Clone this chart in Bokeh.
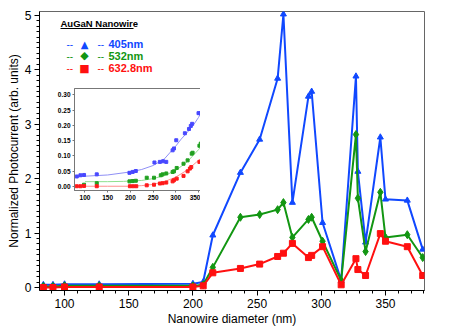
from bokeh.plotting import figure
from bokeh.models import (Label, BoxAnnotation, GridBox, SingleIntervalTicker,
                          FixedTicker, NumeralTickFormatter)
from bokeh.embed import file_html
from bokeh.resources import INLINE

# ---------------- main data ----------------
diameter = [83.5, 91, 100, 127, 200, 208, 215.5, 237, 252, 266, 270.5, 277.5,
            290, 292.5, 301, 315.5, 327, 328.5, 334.5, 346, 350, 367, 379]
pc_405 = [0.05, 0.05, 0.06, 0.06, 0.07, 0.10, 0.96, 2.11, 2.72, 3.84, 5.02, 1.56,
          3.51, 3.60, 1.19, 0.13, 3.88, 2.13, 0.83, 2.76, 1.62, 1.60, 0.70]
pc_532 = [0.02, 0.02, 0.03, 0.03, 0.03, 0.05, 0.37, 1.29, 1.34, 1.43, 1.56, 0.92,
          1.25, 1.29, 0.85, 0.13, 2.81, 1.64, 0.66, 1.75, 0.92, 0.97, 0.55]
pc_633 = [0.00, 0.00, 0.01, 0.01, 0.01, 0.03, 0.27, 0.35, 0.43, 0.57, 0.63, 0.81,
          0.55, 0.59, 0.75, 0.05, 0.53, 0.33, 0.22, 0.99, 0.85, 0.75, 0.22]

series_labels = ["405nm", "532nm", "632.8nm"]
legend_title = "AuGaN Nanowire"
x_label = "Nanowire diameter (nm)"
y_label = "Normalized Photocurrent (arb. units)"

# ---------------- inset data ----------------
in_x_405 = [82, 90, 98, 126, 198, 205, 212, 253, 265, 272, 279, 293, 296, 301,
            320, 329, 333, 336, 350, 354, 369, 379]
in_y_405 = [0.032, 0.036, 0.037, 0.039, 0.044, 0.047, 0.050, 0.078, 0.080, 0.082,
            0.080, 0.118, 0.124, 0.151, 0.174, 0.188, 0.198, 0.205, 0.240, 0.240,
            0.278, 0.294]
in_x_532 = [98, 126, 198, 205, 212, 236, 252, 267, 271, 279, 293, 296, 302, 317,
            326, 335, 337, 352, 355, 368, 379]
in_y_532 = [0.005, 0.010, 0.016, 0.017, 0.018, 0.028, 0.028, 0.036, 0.039, 0.042,
            0.047, 0.049, 0.060, 0.074, 0.085, 0.107, 0.110, 0.133, 0.140, 0.157,
            0.165]
in_x_633 = [82, 90, 98, 126, 199, 206, 213, 236, 252, 265, 271, 279, 293, 296, 302,
            317, 326, 331, 334, 352, 367, 370, 381]
in_y_633 = [0.000, 0.000, 0.001, 0.000, 0.000, 0.000, 0.000, 0.003, 0.005, 0.009,
            0.010, 0.012, 0.016, 0.020, 0.025, 0.034, 0.049, 0.058, 0.063, 0.080,
            0.096, 0.102, 0.134]
# fitted curves
fit_x_405 = [77, 100, 150, 200, 225, 250, 275, 300, 312, 325, 342, 350, 371, 383]
fit_y_405 = [0.031, 0.033, 0.037, 0.047, 0.055, 0.068, 0.090, 0.132, 0.155, 0.176,
             0.208, 0.226, 0.284, 0.318]
fit_x_532 = [100, 150, 185, 225, 250, 275, 300, 325, 350, 365, 383]
fit_y_532 = [0.015, 0.015, 0.016, 0.019, 0.025, 0.035, 0.052, 0.080, 0.120, 0.150,
             0.192]
fit_x_633 = [77, 150, 200, 225, 250, 275, 300, 325, 350, 370, 383]
fit_y_633 = [0.000, 0.000, 0.000, 0.002, 0.006, 0.015, 0.030, 0.053, 0.085, 0.110,
             0.140]
in_x_ticks = [100, 150, 200, 250, 300, 350]
in_y_ticks = [0.0, 0.05, 0.10, 0.15, 0.20, 0.25, 0.30]

BLUE = "#1048ff"
GREEN = "#129612"
RED = "#ff1010"
FONT = "Liberation Sans"

# ---------------- main figure ----------------
p = figure(frame_width=385, frame_height=279, x_range=(80.5, 380.4),
           y_range=(-0.055, 5.07),
           output_backend="svg", toolbar_location=None,
           min_border_left=30, min_border_right=19, min_border_top=2,
           min_border_bottom=37)
p.grid.visible = False
p.outline_line_color = "#666666"
p.background_fill_color = "white"

p.xaxis.ticker = SingleIntervalTicker(interval=50, num_minor_ticks=5)
p.yaxis.ticker = SingleIntervalTicker(interval=1, num_minor_ticks=10)
p.xaxis.axis_label = x_label
p.yaxis.axis_label = y_label
for ax in (p.xaxis, p.yaxis):
    ax.major_label_text_font = FONT
    ax.major_label_text_font_size = "12px"
    ax.major_label_text_color = "black"
    ax.axis_label_text_font = FONT
    ax.axis_label_text_font_size = "12px"
    ax.axis_label_text_font_style = "normal"
    ax.axis_label_text_color = "black"
    ax.axis_label_standoff = 1
    ax.axis_line_color = "black"
    ax.major_tick_line_color = "black"
    ax.minor_tick_line_color = "black"
    ax.major_tick_out = 5
    ax.major_tick_in = 0
    ax.minor_tick_out = 3
    ax.minor_tick_in = 0
    ax.major_label_standoff = 3

p.line(diameter, pc_405, color=BLUE, line_width=2)
p.scatter(diameter, pc_405, marker="triangle", size=6, color=BLUE)
p.line(diameter, pc_532, color=GREEN, line_width=2)
p.scatter(diameter, pc_532, marker="diamond", size=8, color=GREEN)
p.line(diameter, pc_633, color=RED, line_width=2)
p.scatter(diameter, pc_633, marker="square", size=6, color=RED)

# legend block
p.add_layout(Label(x=21, y=267, x_units="screen", y_units="screen",
                   text=legend_title, text_font=FONT, text_font_size="9.5px",
                   text_font_style="bold", text_baseline="middle",
                   text_color="black"))
p.add_layout(BoxAnnotation(left=21, right=94, bottom=261.5, top=262.5,
                           left_units="screen", right_units="screen",
                           bottom_units="screen", top_units="screen",
                           fill_color="black", fill_alpha=1, line_color=None))
rows = [(246.5, BLUE, "\u25B2", 10), (235, GREEN, "\u25C6", 11), (222.5, RED, "\u25A0", 11)]
for (yy, col, sym, fs), lab in zip(rows, series_labels):
    p.add_layout(Label(x=27, y=yy, x_units="screen", y_units="screen", text="--",
                       text_font=FONT, text_font_size="10px", text_color=col,
                       text_baseline="middle"))
    p.add_layout(Label(x=45, y=yy, x_units="screen", y_units="screen", text=sym,
                       text_font="DejaVu Sans", text_font_size=f"{fs}px",
                       text_color=col, text_align="center", text_baseline="middle"))
    p.add_layout(Label(x=58, y=yy, x_units="screen", y_units="screen", text="--",
                       text_font=FONT, text_font_size="10px", text_color=col,
                       text_baseline="middle"))
    p.add_layout(Label(x=69, y=yy, x_units="screen", y_units="screen", text=lab,
                       text_font=FONT, text_font_size="11px", text_font_style="bold",
                       text_color=col, text_baseline="middle"))

# ---------------- inset ----------------
ins = figure(frame_width=139, frame_height=102, x_range=(77, 383),
             y_range=(-0.014, 0.321),
             output_backend="svg", toolbar_location=None,
             min_border_left=20, min_border_right=3, min_border_top=3,
             min_border_bottom=14)
ins.grid.visible = False
ins.outline_line_color = "#777777"
ins.border_fill_color = None
ins.background_fill_color = "white"
ins.xaxis.ticker = FixedTicker(ticks=in_x_ticks)
ins.yaxis.ticker = FixedTicker(ticks=in_y_ticks)
ins.yaxis.formatter = NumeralTickFormatter(format="0.00")
for ax in (ins.xaxis, ins.yaxis):
    ax.major_label_text_font = FONT
    ax.major_label_text_font_size = "6.5px"
    ax.major_label_text_font_style = "bold"
    ax.major_label_text_color = "black"
    ax.axis_line_color = "#777777"
    ax.major_tick_line_color = "#777777"
    ax.minor_tick_line_color = None
    ax.major_tick_out = 2
    ax.major_tick_in = 0
    ax.major_label_standoff = 2

ins.line(fit_x_405, fit_y_405, color="#8f8ff5", line_width=1)
ins.line(fit_x_532, fit_y_532, color="#8fe08f", line_width=1)
ins.line(fit_x_633, fit_y_633, color="#ff8f8f", line_width=1)
ins.scatter(in_x_405, in_y_405, marker="square", size=3, color="#4848ff")
ins.scatter(in_x_532, in_y_532, marker="square", size=3, color="#20a020")
ins.scatter(in_x_633, in_y_633, marker="square", size=3, color="#ff1a1a")

p.margin = (8, 0, 0, 3)
ins.margin = (85, 0, 0, 38)

layout = GridBox(children=[(p, 0, 0), (ins, 0, 0)])

open("out.html", "w").write(file_html(layout, INLINE))
